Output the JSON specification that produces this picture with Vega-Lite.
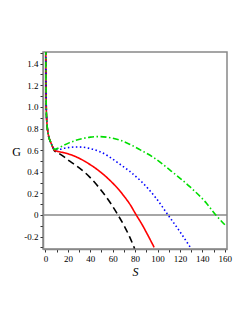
{
  "$schema": "https://vega.github.io/schema/vega-lite/v6.json",
  "width": 184,
  "height": 197,
  "autosize": "none",
  "padding": {"left": 43, "top": 52, "right": 22, "bottom": 74},
  "background": "white",
  "config": {
    "view": {"stroke": "#888888", "strokeWidth": 1.5},
    "axis": {"labelFont": "Liberation Serif", "titleFont": "Liberation Serif", "labelColor": "black", "titleColor": "black", "domainColor": "#888888", "domainWidth": 1.5, "tickColor": "#333333", "grid": false, "labelOverlap": false}
  },
  "datasets": {
    "curves": [
      {"S": 0.28, "G": 1.65, "c": "a"}, {"S": 0.35, "G": 1.45, "c": "a"}, {"S": 0.45, "G": 1.25, "c": "a"}, {"S": 0.6, "G": 1.08, "c": "a"}, {"S": 0.8, "G": 0.955, "c": "a"}, {"S": 1.0, "G": 0.9, "c": "a"}, {"S": 1.3, "G": 0.85, "c": "a"}, {"S": 1.7, "G": 0.8, "c": "a"}, {"S": 2.2, "G": 0.765, "c": "a"}, {"S": 3, "G": 0.72, "c": "a"}, {"S": 4, "G": 0.69, "c": "a"}, {"S": 5, "G": 0.665, "c": "a"}, {"S": 6, "G": 0.64, "c": "a"}, {"S": 7, "G": 0.615, "c": "a"},
      {"S": 8, "G": 0.595, "c": "a"}, {"S": 12, "G": 0.57, "c": "a"}, {"S": 17, "G": 0.535, "c": "a"}, {"S": 22, "G": 0.495, "c": "a"}, {"S": 27.6, "G": 0.455, "c": "a"}, {"S": 35, "G": 0.395, "c": "a"}, {"S": 39.5, "G": 0.35, "c": "a"}, {"S": 44, "G": 0.3, "c": "a"}, {"S": 48.4, "G": 0.245, "c": "a"}, {"S": 54, "G": 0.17, "c": "a"}, {"S": 59, "G": 0.095, "c": "a"}, {"S": 64.7, "G": 0.0, "c": "a"}, {"S": 70.7, "G": -0.11, "c": "a"}, {"S": 75, "G": -0.2, "c": "a"}, {"S": 79.5, "G": -0.31, "c": "a"},

      {"S": 0.28, "G": 1.65, "c": "b"}, {"S": 0.35, "G": 1.45, "c": "b"}, {"S": 0.45, "G": 1.25, "c": "b"}, {"S": 0.6, "G": 1.08, "c": "b"}, {"S": 0.8, "G": 0.955, "c": "b"}, {"S": 1.0, "G": 0.9, "c": "b"}, {"S": 1.3, "G": 0.85, "c": "b"}, {"S": 1.7, "G": 0.8, "c": "b"}, {"S": 2.2, "G": 0.765, "c": "b"}, {"S": 3, "G": 0.72, "c": "b"}, {"S": 4, "G": 0.69, "c": "b"}, {"S": 5, "G": 0.665, "c": "b"}, {"S": 6, "G": 0.64, "c": "b"}, {"S": 7, "G": 0.618, "c": "b"},
      {"S": 8, "G": 0.6, "c": "b"}, {"S": 12, "G": 0.585, "c": "b"}, {"S": 16, "G": 0.577, "c": "b"}, {"S": 20, "G": 0.566, "c": "b"}, {"S": 25, "G": 0.548, "c": "b"}, {"S": 30, "G": 0.525, "c": "b"}, {"S": 35, "G": 0.497, "c": "b"}, {"S": 40, "G": 0.465, "c": "b"}, {"S": 45, "G": 0.43, "c": "b"}, {"S": 50, "G": 0.39, "c": "b"}, {"S": 55, "G": 0.345, "c": "b"}, {"S": 60, "G": 0.295, "c": "b"}, {"S": 65, "G": 0.24, "c": "b"}, {"S": 70, "G": 0.175, "c": "b"}, {"S": 75, "G": 0.105, "c": "b"}, {"S": 81, "G": 0.0, "c": "b"}, {"S": 86, "G": -0.085, "c": "b"}, {"S": 91, "G": -0.18, "c": "b"}, {"S": 97, "G": -0.3, "c": "b"},

      {"S": 0.28, "G": 1.65, "c": "c"}, {"S": 0.35, "G": 1.45, "c": "c"}, {"S": 0.45, "G": 1.25, "c": "c"}, {"S": 0.6, "G": 1.08, "c": "c"}, {"S": 0.8, "G": 0.955, "c": "c"}, {"S": 1.0, "G": 0.9, "c": "c"}, {"S": 1.3, "G": 0.85, "c": "c"}, {"S": 1.7, "G": 0.8, "c": "c"}, {"S": 2.2, "G": 0.765, "c": "c"}, {"S": 3, "G": 0.72, "c": "c"}, {"S": 4, "G": 0.69, "c": "c"}, {"S": 5, "G": 0.665, "c": "c"}, {"S": 6, "G": 0.64, "c": "c"}, {"S": 7, "G": 0.62, "c": "c"},
      {"S": 8, "G": 0.605, "c": "c"}, {"S": 12, "G": 0.606, "c": "c"}, {"S": 16, "G": 0.616, "c": "c"}, {"S": 21, "G": 0.624, "c": "c"}, {"S": 27, "G": 0.629, "c": "c"}, {"S": 33, "G": 0.627, "c": "c"}, {"S": 40, "G": 0.614, "c": "c"}, {"S": 48, "G": 0.588, "c": "c"}, {"S": 56, "G": 0.545, "c": "c"}, {"S": 65, "G": 0.48, "c": "c"}, {"S": 75, "G": 0.405, "c": "c"}, {"S": 86, "G": 0.305, "c": "c"}, {"S": 98, "G": 0.165, "c": "c"}, {"S": 109.4, "G": 0.0, "c": "c"}, {"S": 119, "G": -0.14, "c": "c"}, {"S": 129, "G": -0.295, "c": "c"},

      {"S": 0.28, "G": 1.65, "c": "d"}, {"S": 0.35, "G": 1.45, "c": "d"}, {"S": 0.45, "G": 1.25, "c": "d"}, {"S": 0.6, "G": 1.08, "c": "d"}, {"S": 0.8, "G": 0.955, "c": "d"}, {"S": 1.0, "G": 0.9, "c": "d"}, {"S": 1.3, "G": 0.85, "c": "d"}, {"S": 1.7, "G": 0.8, "c": "d"}, {"S": 2.2, "G": 0.765, "c": "d"}, {"S": 3, "G": 0.72, "c": "d"}, {"S": 4, "G": 0.69, "c": "d"}, {"S": 5, "G": 0.665, "c": "d"}, {"S": 6, "G": 0.64, "c": "d"}, {"S": 7, "G": 0.62, "c": "d"},
      {"S": 8, "G": 0.607, "c": "d"}, {"S": 12, "G": 0.622, "c": "d"}, {"S": 16, "G": 0.643, "c": "d"}, {"S": 21, "G": 0.667, "c": "d"}, {"S": 27, "G": 0.69, "c": "d"}, {"S": 33, "G": 0.707, "c": "d"}, {"S": 40, "G": 0.72, "c": "d"}, {"S": 48, "G": 0.725, "c": "d"}, {"S": 56, "G": 0.718, "c": "d"}, {"S": 66, "G": 0.694, "c": "d"}, {"S": 75, "G": 0.655, "c": "d"}, {"S": 85, "G": 0.6, "c": "d"}, {"S": 96, "G": 0.535, "c": "d"}, {"S": 110.9, "G": 0.417, "c": "d"}, {"S": 128.8, "G": 0.262, "c": "d"}, {"S": 143.7, "G": 0.108, "c": "d"}, {"S": 152, "G": 0.0, "c": "d"}, {"S": 161, "G": -0.1, "c": "d"}
    ],
    "zero": [{"G": 0}]
  },
  "encoding": {
    "y": {
      "field": "G", "type": "quantitative",
      "scale": {"domain": [-0.315, 1.508], "nice": false, "zero": false},
      "axis": {
        "values": [-0.3, -0.2, -0.1, 0, 0.1, 0.2, 0.3, 0.4, 0.5, 0.6, 0.7, 0.8, 0.9, 1.0, 1.1, 1.2, 1.3, 1.4, 1.5],
        "labelExpr": "(datum.value > -0.25 && datum.value < -0.15) ? '-0.2' : (abs(datum.value) < 0.05 ? '0' : ((datum.value > 0.15 && datum.value < 0.25) ? '0.2' : ((datum.value > 0.35 && datum.value < 0.45) ? '0.4' : ((datum.value > 0.55 && datum.value < 0.65) ? '0.6' : ((datum.value > 0.75 && datum.value < 0.85) ? '0.8' : ((datum.value > 0.95 && datum.value < 1.05) ? '1.0' : ((datum.value > 1.15 && datum.value < 1.25) ? '1.2' : ((datum.value > 1.35 && datum.value < 1.45) ? '1.4' : ''))))))))",
        "labelFontSize": 9, "tickSize": 3, "labelPadding": 2,
        "title": "G", "titleAngle": 0, "titleFontSize": 12, "titleFontWeight": "normal",
        "titleX": -27, "titleY": 99, "titleAlign": "center", "titleBaseline": "middle"
      }
    }
  },
  "layer": [
    {
      "data": {"name": "zero"},
      "mark": {"type": "rule", "color": "#888888", "strokeWidth": 1.5}
    },
    {
      "data": {"name": "curves"},
      "mark": {"type": "line", "clip": true, "strokeWidth": 1.6, "interpolate": "monotone"},
      "encoding": {
        "x": {
          "field": "S", "type": "quantitative",
          "scale": {"domain": [-2.2, 162], "nice": false, "zero": false},
          "axis": {
            "values": [0, 10, 20, 30, 40, 50, 60, 70, 80, 90, 100, 110, 120, 130, 140, 150, 160],
            "labelExpr": "datum.value % 20 == 0 ? datum.label : ''",
            "labelFontSize": 9, "tickSize": 3, "labelPadding": 2,
            "title": "S", "titleFontSize": 12, "titleFontStyle": "italic", "titleFontWeight": "normal", "titlePadding": 3
          }
        },
        "color": {
          "field": "c", "type": "nominal",
          "scale": {"domain": ["a", "b", "c", "d"], "range": ["#000000", "#ff0000", "#0000ff", "#00dd00"]},
          "legend": null
        },
        "strokeDash": {
          "field": "c", "type": "nominal",
          "scale": {"domain": ["a", "b", "c", "d"], "range": [[7, 4], [1, 0], [1.5, 2.5], [6, 2.5, 1.5, 2.5]]},
          "legend": null
        }
      }
    }
  ]
}
